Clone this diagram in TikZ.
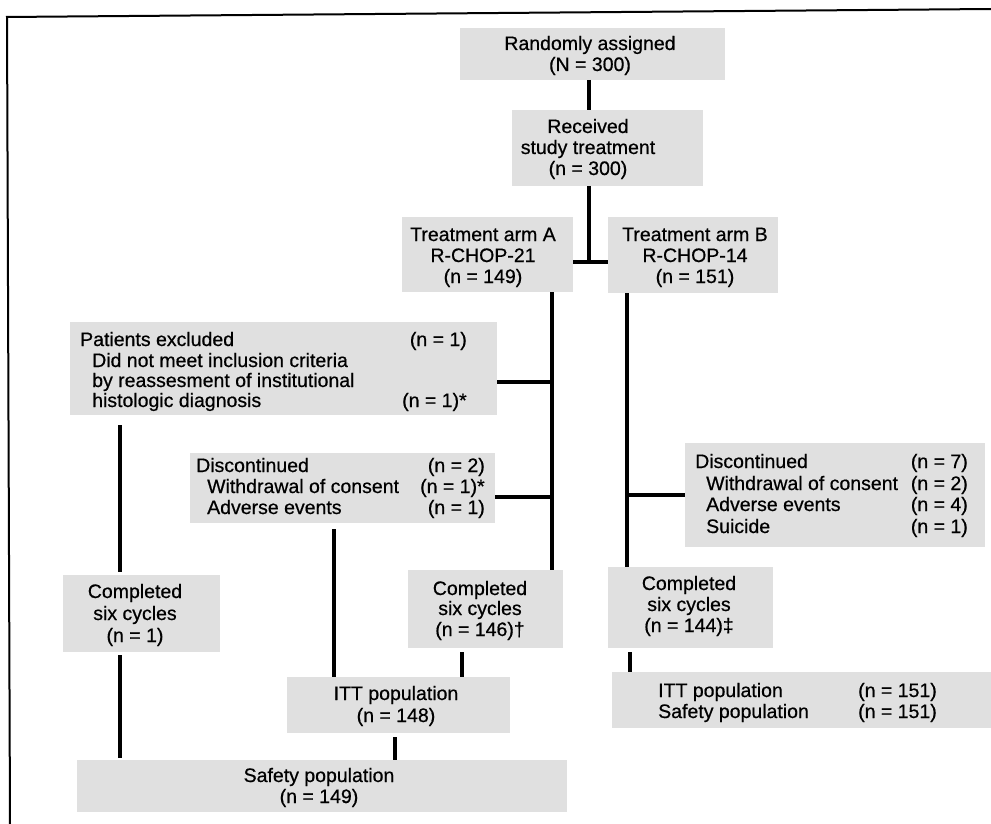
\documentclass[tikz,border=0pt]{standalone}
\usepackage{fontspec}
\setmainfont[FakeBold=0.6]{Liberation Sans}
\begin{document}
\begin{tikzpicture}[x=1pt,y=-1pt,
  greybox/.style={fill=black!12, draw=none, inner sep=0pt, outer sep=0pt, anchor=north west},
  tl/.style={inner sep=0pt, font=\fontsize{19.5}{21}\selectfont},
  conn/.style={line width=3.2pt},
  framel/.style={line width=2pt}]
\useasboundingbox (0,0) rectangle (991,824);
% frame
\draw[framel] (6,17) -- (991,9);
\draw[framel] (7,17) -- (10,824);
% boxes
\node[greybox, minimum width=265pt, minimum height=52pt] (rand) at (460,28) {};
\node[greybox, minimum width=191pt, minimum height=76pt] (recv) at (512,110) {};
\node[greybox, minimum width=171pt, minimum height=75pt] (armA) at (402,217) {};
\node[greybox, minimum width=170pt, minimum height=76pt] (armB) at (608,217) {};
\node[greybox, minimum width=427pt, minimum height=93pt] (excl) at (70,322) {};
\node[greybox, minimum width=305pt, minimum height=70pt] (discA) at (190,453) {};
\node[greybox, minimum width=300pt, minimum height=104pt] (discB) at (685,443) {};
\node[greybox, minimum width=157pt, minimum height=77pt] (compL) at (63,575) {};
\node[greybox, minimum width=155pt, minimum height=78pt] (compA) at (408,570) {};
\node[greybox, minimum width=165pt, minimum height=81pt] (compB) at (608,567) {};
\node[greybox, minimum width=223pt, minimum height=56pt] (ittA) at (287,677) {};
\node[greybox, minimum width=490pt, minimum height=52pt] (safA) at (77,760) {};
\node[greybox, minimum width=379pt, minimum height=56pt] (ittB) at (612,672) {};
% texts
\node[tl, anchor=base] (r1) at (590,50) {Randomly assigned};
\node[tl, anchor=base] (r2) at (590,71) {(N = 300)};
\node[tl, anchor=base] (v1) at (588,133) {Received};
\node[tl, anchor=base] (v2) at (588,154) {study treatment};
\node[tl, anchor=base] (v3) at (588,175) {(n = 300)};
\node[tl, anchor=base] (a1) at (483,241) {Treatment arm A};
\node[tl, anchor=base] (a2) at (483,262) {R-CHOP-21};
\node[tl, anchor=base] (a3) at (483,283) {(n = 149)};
\node[tl, anchor=base] (b1) at (695,241) {Treatment arm B};
\node[tl, anchor=base] (b2) at (695,262) {R-CHOP-14};
\node[tl, anchor=base] (b3) at (695,283) {(n = 151)};
\node[tl, anchor=base west] (e1) at (80,346) {Patients excluded};
\node[tl, anchor=base west] (e2) at (92,367) {Did not meet inclusion criteria};
\node[tl, anchor=base west] (e3) at (92,387) {by reassesment of institutional};
\node[tl, anchor=base west] (e4) at (92,407) {histologic diagnosis};
\node[tl, anchor=base east] (e5) at (467,346) {(n = 1)};
\node[tl, anchor=base west] (e6) at (402,407) {(n = 1)*};
\node[tl, anchor=base west] (d1) at (196,472) {Discontinued};
\node[tl, anchor=base west] (d2) at (207,493) {Withdrawal of consent};
\node[tl, anchor=base west] (d3) at (207,514) {Adverse events};
\node[tl, anchor=base east] (d4) at (485,472) {(n = 2)};
\node[tl, anchor=base west] (d5) at (420,493) {(n = 1)*};
\node[tl, anchor=base east] (d6) at (485,514) {(n = 1)};
\node[tl, anchor=base west] (f1) at (695,468) {Discontinued};
\node[tl, anchor=base west] (f2) at (706,490) {Withdrawal of consent};
\node[tl, anchor=base west] (f3) at (706,511) {Adverse events};
\node[tl, anchor=base west] (f4) at (706,533) {Suicide};
\node[tl, anchor=base east] (f5) at (968,468) {(n = 7)};
\node[tl, anchor=base east] (f6) at (968,490) {(n = 2)};
\node[tl, anchor=base east] (f7) at (968,511) {(n = 4)};
\node[tl, anchor=base east] (f8) at (968,533) {(n = 1)};
\node[tl, anchor=base] (l1) at (135,598) {Completed};
\node[tl, anchor=base] (l2) at (135,620) {six cycles};
\node[tl, anchor=base] (l3) at (135,642) {(n = 1)};
\node[tl, anchor=base] (m1) at (480,595) {Completed};
\node[tl, anchor=base] (m2) at (480,615) {six cycles};
\node[tl, anchor=base] (m3) at (480,636) {(n = 146)†};
\node[tl, anchor=base] (n1) at (689,590) {Completed};
\node[tl, anchor=base] (n2) at (689,611) {six cycles};
\node[tl, anchor=base] (n3) at (689,632) {(n = 144)‡};
\node[tl, anchor=base] (i1) at (396,700) {ITT population};
\node[tl, anchor=base] (i2) at (396,722) {(n = 148)};
\node[tl, anchor=base] (s1) at (319,782) {Safety population};
\node[tl, anchor=base] (s2) at (319,803) {(n = 149)};
\node[tl, anchor=base west] (j1) at (658,697) {ITT population};
\node[tl, anchor=base west] (j2) at (658,718) {Safety population};
\node[tl, anchor=base west] (j3) at (858,697) {(n = 151)};
\node[tl, anchor=base west] (j4) at (858,718) {(n = 151)};
% connector helper coordinates
\coordinate (xm) at (589,0);
\coordinate (xa) at (552,0);
\coordinate (xb) at (627,0);
\coordinate (xl) at (120,0);
\coordinate (xd) at (334,0);
\coordinate (x146) at (462,0);
\coordinate (xitt) at (395,0);
\coordinate (x144) at (630,0);
\coordinate (tee) at (589,262);
\coordinate (ye) at (0,382);
\coordinate (yd) at (0,497);
\coordinate (ydb) at (0,495);
% connectors
\draw[conn] (rand.south -| xm) -- (recv.north -| xm);
\draw[conn] (recv.south -| xm) -- (tee);
\draw[conn] (armA.east |- tee) -- (armB.west |- tee);
\draw[conn] (armA.south -| xa) -- (compA.north -| xa);
\draw[conn] (armB.south -| xb) -- (compB.north -| xb);
\draw[conn] (excl.east |- ye) -- (xa |- ye);
\draw[conn, shorten <=10pt, shorten >=3pt] (excl.south -| xl) -- (compL.north -| xl);
\draw[conn, shorten <=3pt, shorten >=2pt] (compL.south -| xl) -- (safA.north -| xl);
\draw[conn] (discA.east |- yd) -- (xa |- yd);
\draw[conn, shorten <=6pt] (discA.south -| xd) -- (ittA.north -| xd);
\draw[conn, shorten <=4pt] (compA.south -| x146) -- (ittA.north -| x146);
\draw[conn, shorten <=4pt] (ittA.south -| xitt) -- (safA.north -| xitt);
\draw[conn] (xb |- ydb) -- (discB.west |- ydb);
\draw[conn, shorten <=4pt] (compB.south -| x144) -- (ittB.north -| x144);
\end{tikzpicture}
\end{document}
